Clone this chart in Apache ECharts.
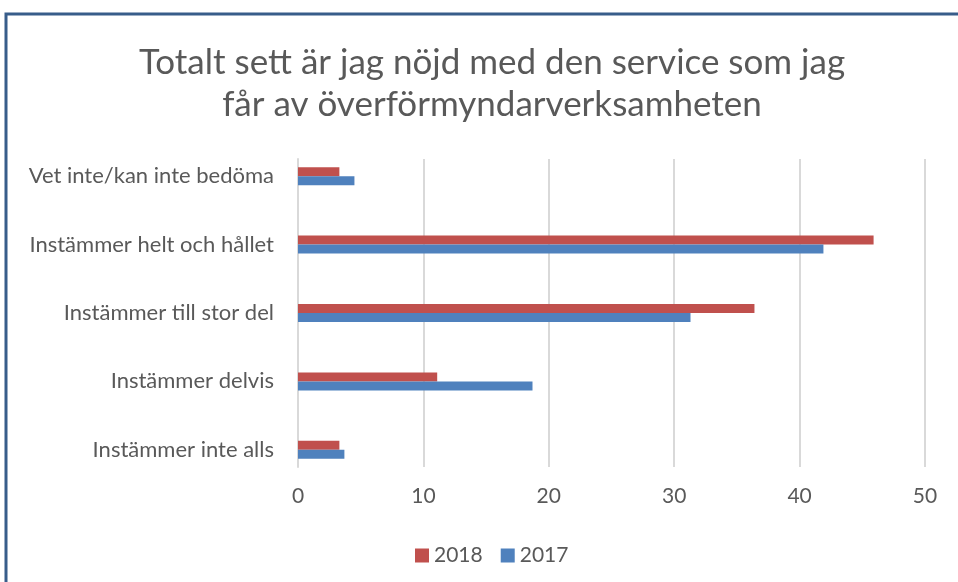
<!DOCTYPE html>
<html>
<head>
<meta charset="utf-8">
<script src="https://cdn.jsdelivr.net/npm/echarts@6/dist/echarts.min.js"></script>
<style>
  html, body { margin: 0; padding: 0; background: #fff; }
  #chart { width: 958px; height: 582px; }
</style>
</head>
<body>
<div id="chart"></div>
<script>
const categories = [
    'Instämmer inte alls',
    'Instämmer delvis',
    'Instämmer till stor del',
    'Instämmer helt och hållet',
    'Vet inte/kan inte bedöma'
];
const values2018 = [3.3, 11.1, 36.4, 45.9, 3.3];
const values2017 = [3.7, 18.7, 31.3, 41.9, 4.5];
const xTicks = { min: 0, max: 50, interval: 10 };

const font = 'Lato, "Open Sans", sans-serif';
const textColor = '#595959';
const gridColor = '#D9D9D9';
const chart = echarts.init(document.getElementById('chart'));

// grid 0 carries the gridlines and tick labels, grid 1 carries the bars
const option = {
    backgroundColor: '#fff',
    textStyle: { fontFamily: font },
    graphic: [
        {
            type: 'rect',
            shape: { x: 6, y: 14, width: 1400, height: 900 },
            style: { fill: 'none', stroke: '#385D8A', lineWidth: 3 },
            silent: true
        }
    ],
    title: {
        text: 'Totalt sett är jag nöjd med den service som jag\nfår av överförmyndarverksamheten',
        left: 487,
        textAlign: 'center',
        top: 37,
        textStyle: {
            fontFamily: font,
            fontSize: 35,
            fontWeight: 'normal',
            color: textColor,
            lineHeight: 42
        }
    },
    legend: {
        data: ['2018', '2017'],
        left: 410,
        top: 540,
        itemWidth: 14,
        itemHeight: 14,
        itemGap: 18,
        icon: 'rect',
        textStyle: { fontFamily: font, fontSize: 21, color: textColor }
    },
    grid: [
        { left: 298, right: 33, top: 159, bottom: 115 },
        { left: 298, right: 33, top: 142, bottom: 98 }
    ],
    xAxis: [
        {
            type: 'value',
            gridIndex: 0,
            min: xTicks.min,
            max: xTicks.max,
            interval: xTicks.interval,
            axisLine: { show: false },
            axisTick: { show: false },
            axisLabel: { fontFamily: font, fontSize: 21, color: textColor, margin: 19 },
            splitLine: { lineStyle: { color: gridColor, width: 2 } }
        },
        {
            type: 'value',
            gridIndex: 1,
            min: xTicks.min,
            max: xTicks.max,
            interval: xTicks.interval,
            show: false,
            splitLine: { show: false }
        }
    ],
    yAxis: [
        {
            type: 'category',
            gridIndex: 0,
            data: categories,
            axisLine: { show: true, lineStyle: { color: gridColor, width: 2 } },
            axisTick: { show: false },
            axisLabel: { show: false }
        },
        {
            type: 'category',
            gridIndex: 1,
            data: categories,
            axisLine: { show: false },
            axisTick: { show: false },
            axisLabel: { fontFamily: font, fontSize: 22, color: textColor, margin: 24 }
        }
    ],
    series: [
        {
            name: '2018',
            type: 'bar',
            xAxisIndex: 1,
            yAxisIndex: 1,
            data: values2018,
            barWidth: 9,
            barGap: '0%',
            itemStyle: { color: '#C0504D' }
        },
        {
            name: '2017',
            type: 'bar',
            xAxisIndex: 1,
            yAxisIndex: 1,
            data: values2017,
            barWidth: 9,
            barGap: '0%',
            itemStyle: { color: '#4F81BD' }
        }
    ]
};

chart.setOption(option);
</script>
</body>
</html>
